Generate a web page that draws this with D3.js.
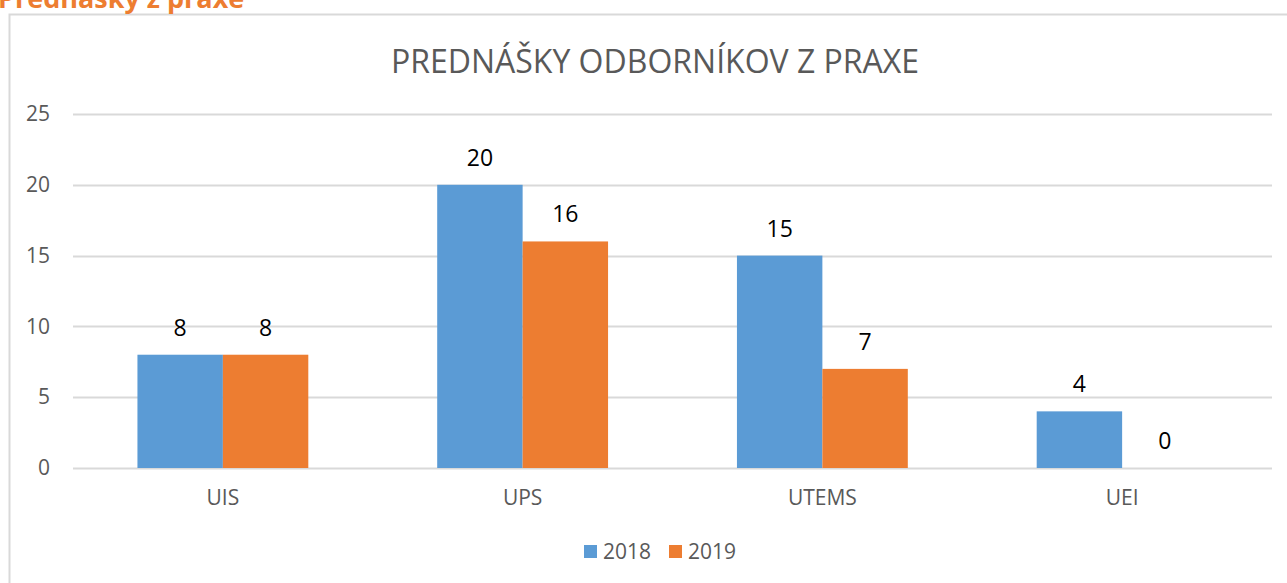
<!DOCTYPE html>
<html>
<head>
<meta charset="utf-8">
<script src="https://cdn.jsdelivr.net/npm/d3@7"></script>
<style>
  body { margin: 0; background: #fff; }
  svg { display: block; font-family: "Open Sans", sans-serif; }
</style>
</head>
<body>
<div id="chart"></div>
<script>
// chart data
const categories = ['UIS', 'UPS', 'UTEMS', 'UEI'];
const seriesNames = ['2018', '2019'];
const values2018 = [8, 20, 15, 4];
const values2019 = [8, 16, 7, 0];
const yTicks = [0, 5, 10, 15, 20, 25];

const colors = { '2018': '#5B9BD5', '2019': '#ED7D31' };

const width = 1287;
const height = 583;
const plot = { left: 73, right: 1272, top: 114, bottom: 468 };

const svg = d3
  .select('#chart')
  .append('svg')
  .attr('width', width)
  .attr('height', height);

// chart frame (cut off at right/bottom in the reference)
svg
  .append('rect')
  .attr('x', 9.5)
  .attr('y', 14.5)
  .attr('width', 1300)
  .attr('height', 600)
  .attr('fill', '#fff')
  .attr('stroke', '#d9d9d9')
  .attr('stroke-width', 2);

// heading above the chart, clipped by the page top
svg
  .append('text')
  .attr('x', -2)
  .attr('y', 8)
  .attr('fill', '#ED7D31')
  .style('font-size', '27px')
  .style('font-weight', 'bold')
  .text('Prednášky z praxe');

// scales
const x0 = d3
  .scaleBand()
  .domain(categories)
  .range([plot.left, plot.right])
  .paddingInner(0.43)
  .paddingOuter(0.215);

const x1 = d3.scaleBand().domain(seriesNames).range([0, x0.bandwidth()]);

const y = d3.scaleLinear().domain([0, 25]).range([plot.bottom, plot.top]);

// gridlines
svg
  .append('g')
  .selectAll('line')
  .data(yTicks)
  .join('line')
  .attr('x1', plot.left)
  .attr('x2', plot.right)
  .attr('y1', (d) => Math.round(y(d)) + 0.5)
  .attr('y2', (d) => Math.round(y(d)) + 0.5)
  .attr('stroke', '#d9d9d9')
  .attr('stroke-width', 2);

// y axis labels
const yAxis = d3.axisLeft(y).tickValues(yTicks).tickSize(0).tickPadding(0);
const yg = svg
  .append('g')
  .attr('transform', `translate(${plot.left - 23},0)`)
  .call(yAxis);
yg.select('.domain').remove();
yg.selectAll('text')
  .attr('fill', '#595959')
  .style('font-size', '21px')
  .style('font-family', '"Open Sans", sans-serif');

// x axis labels
const xAxis = d3.axisBottom(x0).tickSize(0).tickPadding(0);
const xg = svg
  .append('g')
  .attr('transform', `translate(0,${plot.bottom})`)
  .call(xAxis);
xg.select('.domain').remove();
xg.selectAll('text')
  .attr('dy', null)
  .attr('y', 37)
  .attr('fill', '#595959')
  .style('font-size', '21px')
  .style('font-family', '"Open Sans", sans-serif');

// build rows for the bars
const rows = categories.map((c, i) => ({
  category: c,
  values: [
    { key: '2018', value: values2018[i] },
    { key: '2019', value: values2019[i] },
  ],
}));

const groups = svg
  .append('g')
  .selectAll('g')
  .data(rows)
  .join('g')
  .attr('transform', (d) => `translate(${x0(d.category)},0)`);

groups
  .selectAll('rect')
  .data((d) => d.values)
  .join('rect')
  .attr('x', (d) => x1(d.key))
  .attr('y', (d) => y(d.value))
  .attr('width', x1.bandwidth())
  .attr('height', (d) => y(0) - y(d.value))
  .attr('fill', (d) => colors[d.key]);

// data labels
groups
  .selectAll('text')
  .data((d) => d.values)
  .join('text')
  .attr('x', (d) => x1(d.key) + x1.bandwidth() / 2)
  .attr('y', (d) => y(d.value) - 19)
  .attr('text-anchor', 'middle')
  .attr('fill', '#000')
  .style('font-size', '23px')
  .text((d) => d.value);

// title
svg
  .append('text')
  .attr('x', 655)
  .attr('y', 73)
  .attr('text-anchor', 'middle')
  .attr('fill', '#595959')
  .style('font-size', '32px')
  .text('PREDNÁŠKY ODBORNÍKOV Z PRAXE');

// legend
const legend = svg
  .append('g')
  .selectAll('g')
  .data(seriesNames)
  .join('g')
  .attr('transform', (d, i) => `translate(${584 + i * 85},545)`);

legend
  .append('rect')
  .attr('width', 13)
  .attr('height', 13)
  .attr('fill', (d) => colors[d]);

legend
  .append('text')
  .attr('x', 19)
  .attr('y', 14)
  .attr('fill', '#595959')
  .style('font-size', '21px')
  .text((d) => d);
</script>
</body>
</html>
